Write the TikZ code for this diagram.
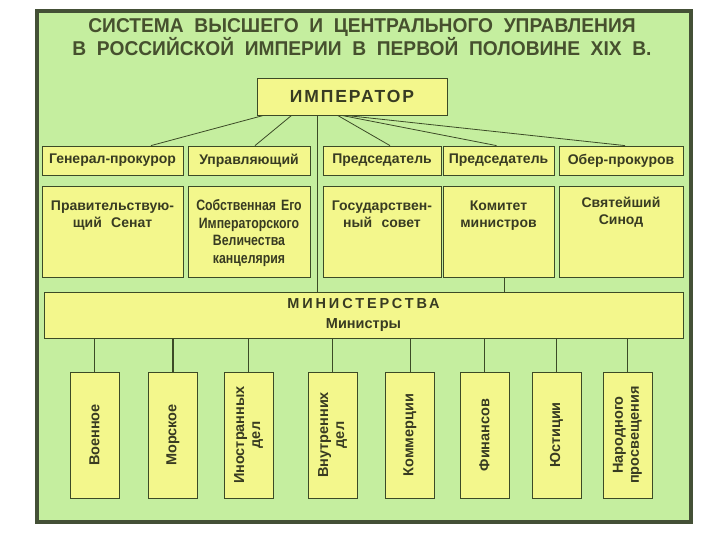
\documentclass[tikz,border=0pt]{standalone}
\usepackage{fontspec}
\setmainfont{Liberation Sans}
\newfontfamily\narrowfont[FakeStretch=0.82]{Liberation Sans}
\newfontfamily\titlefont[FakeStretch=0.96]{Liberation Sans}
\usetikzlibrary{positioning}
\definecolor{bggreen}{HTML}{C5EE9F}
\definecolor{boxyellow}{HTML}{F3F78C}
\definecolor{boxline}{HTML}{3C4A26}
\definecolor{frameline}{HTML}{445036}
\definecolor{boxtext}{HTML}{383B22}
\definecolor{titletext}{HTML}{46502E}

\begin{document}
\begin{tikzpicture}[
  x=1pt, y=-1pt,
  every node/.style={inner sep=0pt, text=boxtext},
  cell/.style={draw=boxline, fill=boxyellow, line width=0.8pt},
  posthead/.style={cell, minimum width=#1, minimum height=29pt,
   font=\fontsize{14}{16}\selectfont\bfseries},
  organ/.style={cell, text width=#1, align=center, text height=24pt, text depth=67pt,
   font=\fontsize{14}{17.5}\selectfont\bfseries},
  ministry/.style={cell, rotate=90, minimum width=126pt, minimum height=49pt,
   align=center, font=\fontsize{14.5}{16}\selectfont\bfseries},
  link/.style={draw=boxline, line width=0.8pt}
  ]
  \useasboundingbox (0,0) rectangle (720,540);
  \draw[frameline, line width=3.5pt, fill=bggreen] (37,11) rectangle (691,522);

  \node[text=titletext, align=center, font=\fontsize{20}{20}\selectfont\titlefont\bfseries]
   (title) at (362,37) {СИСТЕМА \ ВЫСШЕГО \ И \ ЦЕНТРАЛЬНОГО \ УПРАВЛЕНИЯ\\
   В \ РОССИЙСКОЙ \ ИМПЕРИИ \ В \ ПЕРВОЙ \ ПОЛОВИНЕ \ XIX \ В.};

  \node[cell, minimum width=190pt, minimum height=37pt,
   font=\fontsize{17.5}{18}\selectfont\bfseries\addfontfeature{LetterSpace=11}]
   (imp) at (352,96.5) {ИМПЕРАТОР};

  % posts
  \node[posthead=141pt] (gp) at (112.5,160.5) {Генерал-прокурор};
  \node[posthead=122pt] (up) at (249,160.5) {Управляющий};
  \node[posthead=118pt] (pr1) at (382,160.5) {Председатель};
  \node[posthead=111pt] (pr2) at (498.5,160.5) {Председатель};
  \node[posthead=124pt] (op) at (621,160.5) {Обер-прокуров};

  % bodies
  \node[organ=141pt, anchor=north] (senate) at (112.5,186) {Правительствую-\\щий \ Сенат};
  \node[organ=122pt, anchor=north, font=\fontsize{15}{17.7}\selectfont\narrowfont\bfseries]
   (chancery) at (249,186) {Собственная Его\\Императорского\\Величества\\канцелярия};
  \node[organ=118pt, anchor=north] (council) at (382,186) {Государствен-\\ный \ совет};
  \node[organ=111pt, anchor=north] (committee) at (498.5,186) {Комитет\\министров};
  \node[organ=124pt, anchor=north, text height=21pt, text depth=70pt]
   (synod) at (621,186) {Святейший\\Синод};

  \node[cell, minimum width=639pt, minimum height=46pt, align=center,
   font=\fontsize{14.5}{20}\selectfont\bfseries]
   (min) at (363.5,315) {{\addfontfeature{LetterSpace=20}МИНИСТЕРСТВА}\\Министры};

  % ministries
  \node[ministry] (war) at (94.5,435) {Военное};
  \node[ministry] (navy) at (173,435) {Морское};
  \node[ministry] (foreign) at (248.5,435) {Иностранных\\дел};
  \node[ministry] (interior) at (332.5,435) {Внутренних\\дел};
  \node[ministry] (commerce) at (410,435) {Коммерции};
  \node[ministry] (finance) at (484.5,435) {Финансов};
  \node[ministry] (justice) at (556.5,435) {Юстиции};
  \node[ministry] (educ) at (627.5,435) {Народного\\просвещения};

  \draw[link] ([xshift=7pt]imp.south west) -- ([xshift=38.5pt]gp.north);
  \draw[link] ([xshift=35pt]imp.south west) -- ([xshift=6pt]up.north);
  \draw[link] ([xshift=81pt]imp.south west) -- ([xshift=8pt]pr1.north);
  \draw[link] ([xshift=85pt]imp.south west) -- ([xshift=-2pt]pr2.north);
  \draw[link] ([xshift=89pt]imp.south west) -- ([xshift=4pt]op.north);
  \draw[link] ([xshift=61pt]imp.south west) -- ([xshift=61pt]imp.south west |- min.north);
  \draw[link] ([xshift=5.5pt]committee.south) -- ([xshift=5.5pt]committee.south |- min.north);

  \draw[link] (min.south -| war) -- (war);
  \draw[link, line width=2pt] (min.south -| navy) -- (navy);
  \draw[link] (min.south -| foreign) -- (foreign);
  \draw[link] (min.south -| interior) -- (interior);
  \draw[link] (min.south -| commerce) -- (commerce);
  \draw[link] (min.south -| finance) -- (finance);
  \draw[link] (min.south -| justice) -- (justice);
  \draw[link] (min.south -| educ) -- (educ);
\end{tikzpicture}
\end{document}
